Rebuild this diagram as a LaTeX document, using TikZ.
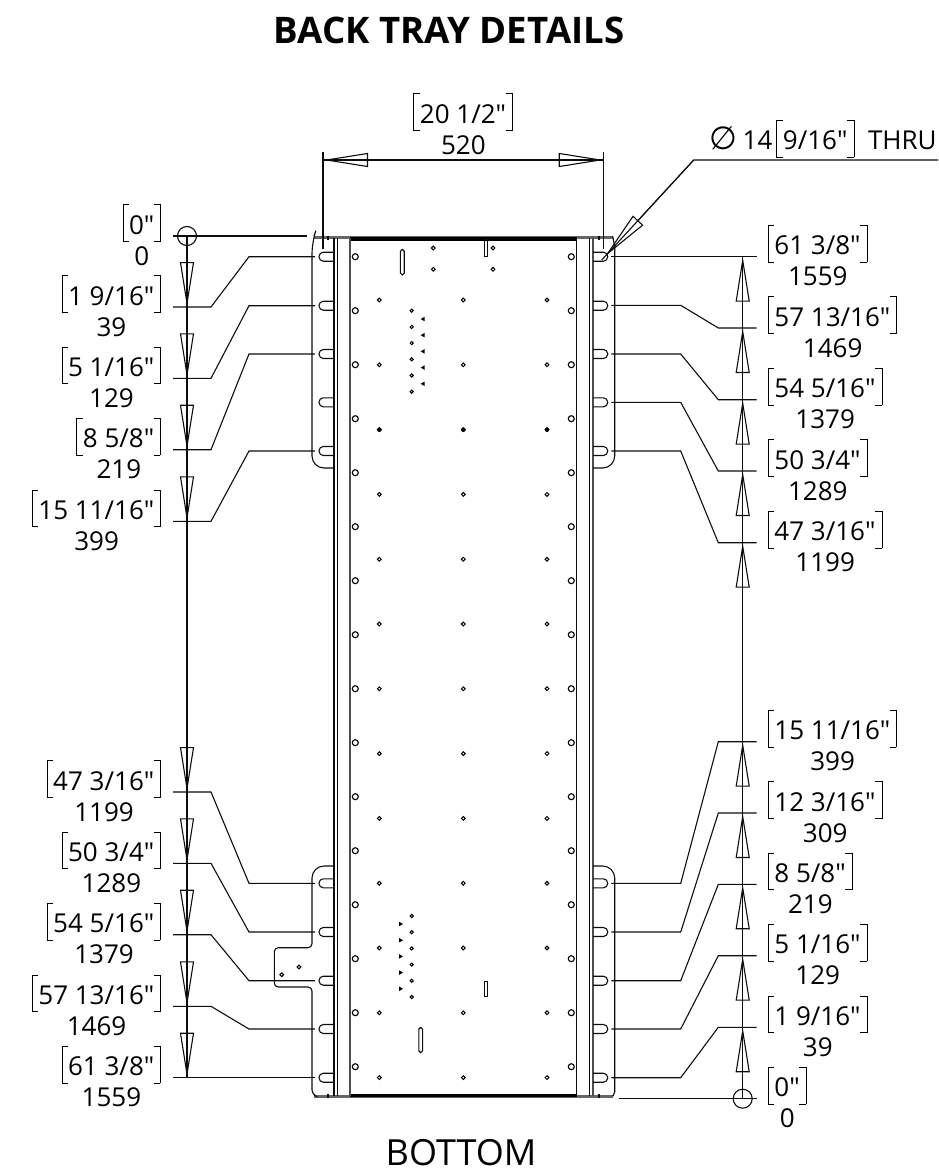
\documentclass[tikz,border=0pt]{standalone}
\usepackage{fontspec}
\setmainfont{Open Sans}[Ligatures=TeXOff]
\newfontfamily\symfont{DejaVu Sans}
\usetikzlibrary{arrows.meta,shapes.geometric}
\newcommand{\lbrk}{\smash{\rlap{\rule[-7.5pt]{6.5pt}{.9pt}}\rlap{\rule[29.1pt]{6.5pt}{.9pt}}\rule[-7.5pt]{.9pt}{37.5pt}}\hspace{5.6pt}}
\newcommand{\rbrk}{\hspace{6.1pt}\smash{\llap{\rule[-7.5pt]{6.5pt}{.9pt}}\llap{\rule[29.1pt]{6.5pt}{.9pt}}\rule[-7.5pt]{.9pt}{37.5pt}}}
\newcommand{\dimlabel}[2]{\rule{0pt}{20pt}\lbrk #1\rbrk\\#2}
\tikzstyle{dimtext} = [font=\fontsize{26}{31}\selectfont, align=center, inner sep=0pt]
\tikzstyle{dimline} = [line width=1.1pt, black!95]
\tikzstyle{dimtip} = [dimline, -{Triangle[open, length=45pt, width=14pt]}]
\tikzstyle{zeromark} = [draw=black!95, line width=1.1pt, circle, inner sep=0pt, minimum size=19pt]
\tikzstyle{plate} = [line width=1.1pt, black!95]
\tikzstyle{bighole} = [line width=1.1pt, black]
\tikzstyle{smallhole} = [line width=1pt, black]
\begin{document}
\begin{tikzpicture}[x=1pt, y=-1pt]
\useasboundingbox (0,0) rectangle (938,1169);

\node[inner sep=0pt, anchor=base, font=\fontsize{36.6}{40}\selectfont\bfseries] (title) at (449,44) {BACK TRAY DETAILS};
\node[inner sep=0pt, anchor=base, font=\fontsize{36}{40}\selectfont] (bottom) at (461,1165) {BOTTOM};

% tray outline
\fill[black!60] (314,236) rectangle (612.7,239);
\fill[black] (350,236.5) rectangle (576.7,240.5);
\fill[black!60] (314,1095) rectangle (612.7,1098);
\fill[black] (350,1093.5) rectangle (576.7,1097);
\draw[plate] (334,238) -- (334,1096);
\draw[plate] (337.7,238) -- (337.7,1096);
\draw[plate, line width=1.4pt, black!70] (350,238) -- (350,1096);
\draw[plate] (576.7,238) -- (576.7,1096);
\draw[plate] (589.3,238) -- (589.3,1096);
\draw[plate, line width=1.4pt, black!70] (593,238) -- (593,1096);
\foreach \xn in {328,599} {
    \draw[plate] (\xn,236) -- (\xn,240);
    \draw[plate] (\xn,1094) -- (\xn,1098);
}
\draw[plate, rounded corners=12pt] (314,236) -- (312,242) -- (312,468) -- (334,468);
\draw[plate, rounded corners=12pt] (593,468) -- (614.7,468) -- (614.7,246);
\draw[plate] (614.7,247) -- (612.7,236);
\draw[plate, rounded corners=4pt] (334,866) [rounded corners=12pt] -- (312,866) [rounded corners=4pt] -- (312,947.7) -- (274.3,947.7) -- (274.3,987) [rounded corners=4pt] -- (312,987) -- (312,1094) -- (314,1095);
\draw[plate, rounded corners=12pt] (593,866) -- (614.7,866) [rounded corners=2pt] -- (614.7,1094) -- (612.7,1096);

% slots
\foreach \ys in {256.7,305.7,354,402.3,451,883.3,932,980.7,1029,1077.7} {
    \draw[plate, rounded corners=4.3pt] (334,\ys-4.5) -- (319,\ys-4.5) -- (319,\ys+4.5) -- (334,\ys+4.5);
    \draw[plate, rounded corners=4.3pt] (593,\ys-4.5) -- (607.7,\ys-4.5) -- (607.7,\ys+4.5) -- (593,\ys+4.5);
}
\draw[plate, rounded corners=1.9pt] (400.4,249.3) rectangle (404.2,275);
\draw[plate, rounded corners=1.9pt] (418.8,1027.3) rectangle (422.6,1052.7);
\draw[plate, line width=.8pt] (484.7,239) rectangle (487.5,256);
\draw[plate, line width=.8pt] (484.8,981.7) rectangle (487.7,996);

% holes
\foreach \k in {0,...,15} {
    \draw[bighole] (355.3,256.7+54*\k) circle (3pt);
    \draw[bighole] (571.3,256.7+54*\k) circle (3pt);
}
\foreach \k in {0,...,12} {
    \draw[smallhole] (379.3,300+64.8*\k) circle (1.9pt);
    \draw[smallhole] (463.3,300+64.8*\k) circle (1.9pt);
    \draw[smallhole] (547,300+64.8*\k) circle (1.9pt);
}
\foreach \xh in {379.3,463.3,547} \fill (\xh,429.7) circle (2.2pt);
\foreach \xh/\yh in {433.3/248,433.3/269.3,493/248,493/269.3,281.7/974.7,299/967} \draw[smallhole] (\xh,\yh) circle (1.9pt);
\foreach \k in {0,...,5} {
    \draw[smallhole] (411.7,310.7+16.2*\k) circle (1.6pt);
    \draw[smallhole] (411.7,916+16.2*\k) circle (1.6pt);
}
\foreach \k in {0,...,4} {
    \fill (420.7,319+16.2*\k) -- (424.5,316.8+16.2*\k) -- (424.5,321.2+16.2*\k) -- cycle;
    \fill (403,924+16.2*\k) -- (399.2,921.8+16.2*\k) -- (399.2,926.2+16.2*\k) -- cycle;
}

% width dimension
\coordinate (wl) at (323,160);
\coordinate (wr) at (603.7,160);
\draw[dimline] (323,152.3) -- (323,249.3);
\draw[dimline] (603.7,152.3) -- (603.7,249.3);
\draw[dimline] (wl) -- (wr);
\draw[dimline, {Triangle[open, length=45pt, width=14pt]}-{Triangle[open, length=45pt, width=14pt]}] (wl) -- (wr);
\node[dimtext, anchor=north] (widthlabel) at (463.3,103.3) {\dimlabel{20 1/2"}{520}};

% hole callout
\coordinate (holeend) at (938,160);
\coordinate (holeelbow) at (693.7,160);
\coordinate (holetip) at (601.7,260);
\coordinate (holehead) at (605,256.4);
\draw[dimline] (holeend) -- (holeelbow) -- (holetip);
\draw[dimline, -{Triangle[open, length=49pt, width=14pt]}] (holeelbow) -- (holehead);
\node[dimtext, anchor=base west] (holesym) at (709,150) {{\symfont\fontsize{32}{31}\selectfont ∅}};
\node[dimtext, anchor=base west] (holelabel) at (742.5,150) {14\hspace{4pt}\lbrk 9/16"\rbrk\hspace{13.5pt}THRU};

% left chain
\node[zeromark] (lz) at (187,236) {};
\coordinate (lt0) at (187,236);
\draw[dimline] (173,236) -- (307,236);
\node[dimtext, anchor=north east] (ll0) at (161.5,214) {\dimlabel{0"}{0}};
\foreach \num/\yt/\ys/\txt in {39/307/256.7/{1 9/16"},129/378.3/305.7/{5 1/16"},219/449.7/354/{8 5/8"},399/521.3/451/{15 11/16"},1199/792/883.3/{47 3/16"},1289/863.3/932/{50 3/4"},1379/934.7/980.7/{54 5/16"},1469/1006.3/1029/{57 13/16"},1559/1077.7/1077.7/{61 3/8"}} {
    \coordinate (lt\num) at (187,\yt);
    \coordinate (ls\num) at (315,\ys);
    \draw[dimline] ([xshift=-14pt]lt\num) -- ([xshift=24pt]lt\num) -- ([xshift=-66pt]ls\num) -- (ls\num);
    \node[dimtext, anchor=north east] (ll\num) at (161.5,\yt-22) {\dimlabel{\txt}{\num}};
}
\foreach \a/\b in {0/39,39/129,129/219,219/399,399/1199,1199/1289,1289/1379,1379/1469,1469/1559} \draw[dimtip] (lt\a) -- (lt\b);
\draw[dimline] (lt0) -- (lt1559);

% right chain
\node[zeromark] (rz) at (742.7,1098.7) {};
\coordinate (rt0) at (742.7,1098.7);
\draw[dimline] (619,1098.7) -- (756.7,1098.7);
\node[dimtext, anchor=north west] (rl0) at (767.7,1076.7) {\dimlabel{0"}{0}};
\foreach \num/\yt/\ys/\txt in {39/1027.3/1077.7/{1 9/16"},129/955.7/1029/{5 1/16"},219/884.3/980.7/{8 5/8"},309/813/932/{12 3/16"},399/741.7/883.3/{15 11/16"},1199/542.7/451/{47 3/16"},1289/471/402.3/{50 3/4"},1379/399.7/354/{54 5/16"},1469/328/305.3/{57 13/16"},1559/256.7/256.7/{61 3/8"}} {
    \coordinate (rt\num) at (742.7,\yt);
    \coordinate (rs\num) at (611.3,\ys);
    \draw[dimline] ([xshift=14pt]rt\num) -- ([xshift=-24.4pt]rt\num) -- ([xshift=69.4pt]rs\num) -- (rs\num);
    \node[dimtext, anchor=north west] (rl\num) at (767.7,\yt-22) {\dimlabel{\txt}{\num}};
}
\foreach \a/\b in {0/39,39/129,129/219,219/309,309/399,399/1199,1199/1289,1289/1379,1379/1469,1469/1559} \draw[dimtip] (rt\a) -- (rt\b);
\draw[dimline] (rt0) -- (rt1559);
\end{tikzpicture}
\end{document}
